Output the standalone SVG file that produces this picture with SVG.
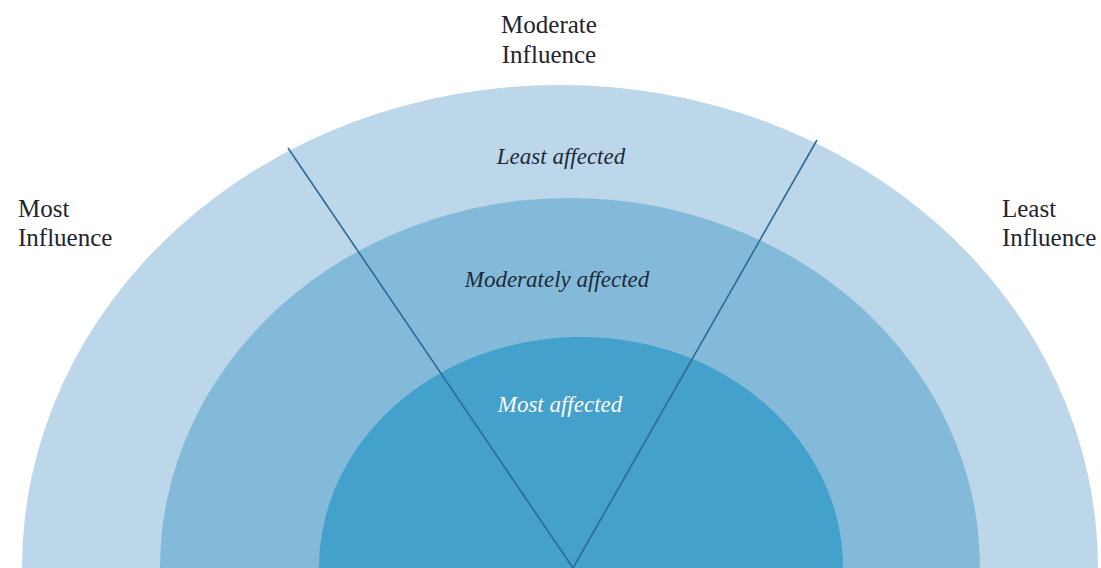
<svg xmlns="http://www.w3.org/2000/svg" width="1101" height="568" viewBox="0 0 1101 568">
<style>
.lbl{font-family:"Liberation Serif","DejaVu Serif",serif;font-size:25px;fill:#1e2530}
.ring{font-family:"Liberation Serif","DejaVu Serif",serif;font-style:italic;font-size:23px;fill:#1e2a38;text-anchor:middle}
.conn{stroke:#2c6a98;stroke-width:1.6;fill:none}
</style>
<rect width="1101" height="568" fill="#ffffff"/>
<g id="outer-ring"><ellipse cx="560" cy="568" rx="538" ry="483" fill="#bcd7ea"/></g>
<g id="middle-ring"><ellipse cx="570" cy="568" rx="410" ry="370" fill="#84bad9"/></g>
<g id="inner-ring"><ellipse cx="581" cy="568" rx="262" ry="231" fill="#43a1cc"/></g>
<rect x="0" y="568" width="1101" height="40" fill="#ffffff"/>
<g id="connectors">
<line class="conn" x1="288" y1="148" x2="573" y2="568"/>
<line class="conn" x1="817" y1="140" x2="573" y2="568"/>
</g>
<g id="label-moderate-influence">
<text class="lbl" x="549" y="33" text-anchor="middle">Moderate</text>
<text class="lbl" x="549" y="63" text-anchor="middle">Influence</text>
</g>
<g id="label-most-influence">
<text class="lbl" x="18" y="217">Most</text>
<text class="lbl" x="18" y="246">Influence</text>
</g>
<g id="label-least-influence">
<text class="lbl" x="1002" y="217">Least</text>
<text class="lbl" x="1002" y="246">Influence</text>
</g>
<g id="label-least-affected"><text class="ring" x="561" y="164">Least affected</text></g>
<g id="label-moderately-affected"><text class="ring" x="557" y="287">Moderately affected</text></g>
<g id="label-most-affected"><text class="ring" x="560" y="412" style="fill:#ffffff">Most affected</text></g>
</svg>
